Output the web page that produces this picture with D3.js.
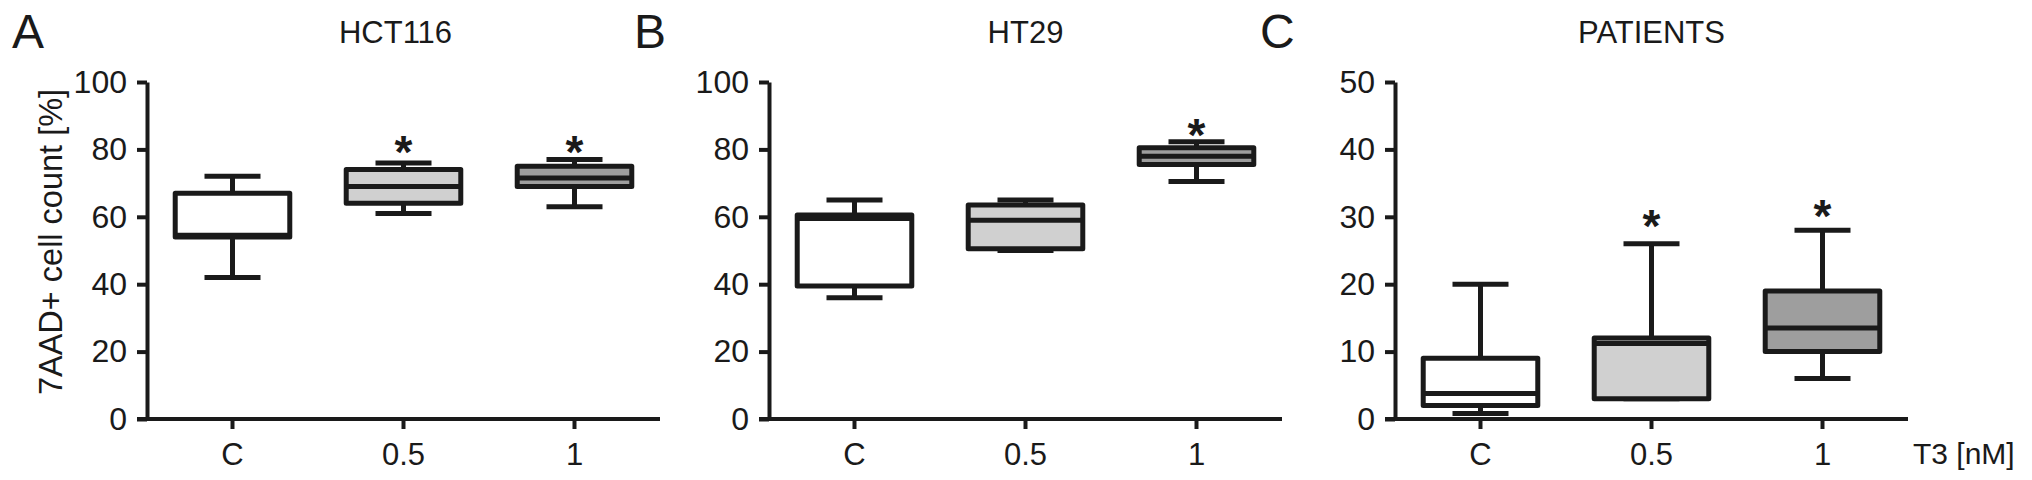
<!DOCTYPE html>
<html>
<head>
<meta charset="utf-8">
<script src="https://cdn.jsdelivr.net/npm/d3@7"></script>
<style>
    body { margin: 0; background: #fff; }
    text { font-family: 'Liberation Sans', Arial, sans-serif; fill: #1a1a1a; }
    .axis path, .axis line { stroke: #1a1a1a; stroke-width: 4; }
</style>
</head>
<body>
<div id="chart"></div>
<script>
// categories on the x axis (T3 concentration)
const categories = ['C', '0.5', '1'];
const panelTitles = ['HCT116', 'HT29', 'PATIENTS'];
const panelLetters = ['A', 'B', 'C'];
const yMax = [100, 100, 50];

// [min, q1, median, q3, max] for each category
const hct116 = [[42, 54, 54.5, 67, 72], [61, 64, 69, 74, 76], [63, 69, 71.5, 75, 77]];
const ht29 = [[36, 39.5, 59.5, 60.5, 65], [50, 50.5, 59, 63.5, 65], [70.5, 75.5, 78, 80.5, 82.3]];
const patients = [[0.8, 2, 3.8, 9, 20], [3, 3, 11.2, 12, 26], [6, 10, 13.5, 19, 28]];

// where the significance stars sit (null = none)
const hct116Stars = [null, 82, 82];
const ht29Stars = [null, null, 87];
const patientsStars = [null, 30, 31.5];

const fills = ['#ffffff', '#d0d0d0', '#9e9e9e'];

let svg = d3.select('#chart').append('svg')
    .attr('width', 2032)
    .attr('height', 480);

let panels = [
    { stats: hct116, stars: hct116Stars, left: 147, titleShift: -8 },
    { stats: ht29, stars: ht29Stars, left: 769, titleShift: 0 },
    { stats: patients, stars: patientsStars, left: 1395, titleShift: 0 }
];

let plotTop = 82, plotBottom = 419, axisWidth = 513;

panels.forEach((p, k) => {
    let g = svg.append('g').attr('transform', `translate(${p.left},0)`);

    let x = d3.scaleBand()
        .domain(categories)
        .range([0, axisWidth])
        .paddingInner(0.33)
        .paddingOuter(0.165);
    let y = d3.scaleLinear().domain([0, yMax[k]]).range([plotBottom, plotTop]);

    let capW = 56;
    let boxes = g.selectAll('.box')
        .data(p.stats)
        .enter().append('g')
        .attr('class', 'box')
        .attr('transform', (d, i) => `translate(${x(categories[i]) + x.bandwidth() / 2},0)`);

    // whiskers
    boxes.append('line')
        .attr('x1', 0).attr('x2', 0)
        .attr('y1', d => y(d[4])).attr('y2', d => y(d[0]))
        .attr('stroke', '#1a1a1a').attr('stroke-width', 5);
    boxes.append('line')
        .attr('x1', -capW / 2).attr('x2', capW / 2)
        .attr('y1', d => y(d[4])).attr('y2', d => y(d[4]))
        .attr('stroke', '#1a1a1a').attr('stroke-width', 5);
    boxes.append('line')
        .attr('x1', -capW / 2).attr('x2', capW / 2)
        .attr('y1', d => y(d[0])).attr('y2', d => y(d[0]))
        .attr('stroke', '#1a1a1a').attr('stroke-width', 5);

    boxes.append('rect')
        .attr('x', -x.bandwidth() / 2)
        .attr('width', x.bandwidth())
        .attr('y', d => y(d[3]))
        .attr('height', d => y(d[1]) - y(d[3]))
        .attr('fill', (d, i) => fills[i])
        .attr('stroke', '#1a1a1a').attr('stroke-width', 5)
        .attr('stroke-linejoin', 'round');
    boxes.append('line')
        .attr('x1', -x.bandwidth() / 2).attr('x2', x.bandwidth() / 2)
        .attr('y1', d => y(d[2])).attr('y2', d => y(d[2]))
        .attr('stroke', '#1a1a1a').attr('stroke-width', 5);

    // stars
    g.selectAll('.star')
        .data(p.stars.map((v, i) => ({ v: v, c: categories[i] })).filter(s => s.v !== null))
        .enter().append('text')
        .attr('class', 'star')
        .attr('x', s => x(s.c) + x.bandwidth() / 2)
        .attr('y', s => y(s.v) + 25)
        .attr('text-anchor', 'middle')
        .style('font-size', '46px')
        .style('font-weight', 'bold')
        .text('*');

    // axes
    let yAxis = g.append('g').attr('class', 'axis')
        .call(d3.axisLeft(y).ticks(5).tickSize(10).tickSizeOuter(0).tickPadding(10));
    yAxis.selectAll('text').style('font-size', '32px');

    let xAxis = g.append('g').attr('class', 'axis')
        .attr('transform', `translate(0,${plotBottom})`)
        .call(d3.axisBottom(x).tickSize(10).tickSizeOuter(0).tickPadding(14));
    xAxis.select('.domain').attr('d', `M-10,0H${axisWidth}`);
    xAxis.selectAll('text').style('font-size', '31px');

    // titles
    g.append('text')
        .attr('x', x('0.5') + x.bandwidth() / 2 + p.titleShift)
        .attr('y', 43)
        .attr('text-anchor', 'middle')
        .style('font-size', '31px')
        .text(panelTitles[k]);

    svg.append('text')
        .attr('x', p.left - 135)
        .attr('y', 48)
        .style('font-size', '48px')
        .text(panelLetters[k]);
});

svg.append('text')
    .attr('transform', 'translate(62,242) rotate(-90)')
    .attr('text-anchor', 'middle')
    .style('font-size', '32.5px')
    .text('7AAD+ cell count [%]');

svg.append('text')
    .attr('x', 1913)
    .attr('y', 464)
    .style('font-size', '30px')
    .text('T3 [nM]');
</script>
</body>
</html>
